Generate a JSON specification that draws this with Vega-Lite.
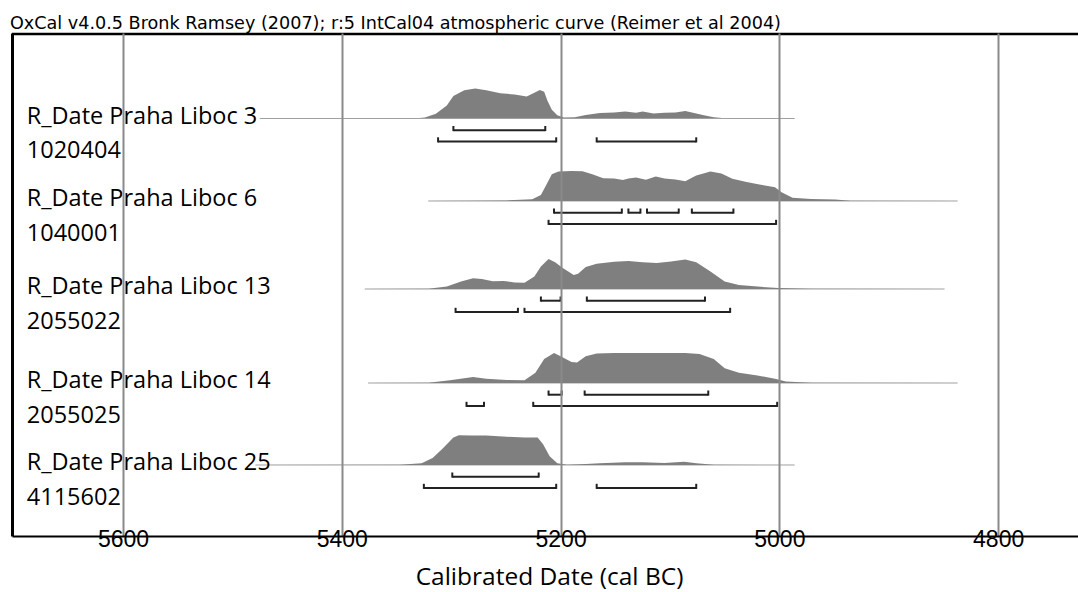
{
"$schema": "https://vega.github.io/schema/vega-lite/v6.json",
"autosize": {"type": "none"},
"padding": {"left": 12, "top": 33, "right": 0, "bottom": 56},
"width": 1066,
"height": 503,
"background": "white",
"config": {"view": {"stroke": null}},
"title": {"text": "OxCal v4.0.5 Bronk Ramsey (2007); r:5 IntCal04 atmospheric curve (Reimer et al 2004)", "anchor": "start", "frame": "group", "font": "DejaVu Sans", "fontSize": 17.6, "fontWeight": "normal", "color": "#000", "offset": 0, "dx": -2},
"datasets": {
"density": [
{"s":1,"yr":5475,"p":0},{"s":1,"yr":5334,"p":0},{"s":1,"yr":5324,"p":0.03},{"s":1,"yr":5314,"p":0.16},{"s":1,"yr":5304,"p":0.43},{"s":1,"yr":5298,"p":0.75},{"s":1,"yr":5288,"p":0.94},{"s":1,"yr":5278,"p":1.0},{"s":1,"yr":5268,"p":0.94},{"s":1,"yr":5255,"p":0.84},{"s":1,"yr":5242,"p":0.8},{"s":1,"yr":5231,"p":0.73},{"s":1,"yr":5224,"p":0.86},{"s":1,"yr":5219,"p":0.95},{"s":1,"yr":5215,"p":0.89},{"s":1,"yr":5212,"p":0.59},{"s":1,"yr":5208,"p":0.29},{"s":1,"yr":5203,"p":0.11},{"s":1,"yr":5197,"p":0.03},{"s":1,"yr":5187,"p":0.04},{"s":1,"yr":5177,"p":0.12},{"s":1,"yr":5164,"p":0.18},{"s":1,"yr":5151,"p":0.2},{"s":1,"yr":5141,"p":0.23},{"s":1,"yr":5131,"p":0.19},{"s":1,"yr":5125,"p":0.23},{"s":1,"yr":5115,"p":0.17},{"s":1,"yr":5105,"p":0.19},{"s":1,"yr":5095,"p":0.2},{"s":1,"yr":5086,"p":0.25},{"s":1,"yr":5079,"p":0.19},{"s":1,"yr":5069,"p":0.11},{"s":1,"yr":5060,"p":0.04},{"s":1,"yr":5050,"p":0.01},{"s":1,"yr":4986,"p":0},
{"s":2,"yr":5321,"p":0},{"s":2,"yr":5282,"p":0.01},{"s":2,"yr":5249,"p":0.02},{"s":2,"yr":5226,"p":0.06},{"s":2,"yr":5218,"p":0.2},{"s":2,"yr":5213,"p":0.54},{"s":2,"yr":5208,"p":0.89},{"s":2,"yr":5202,"p":0.98},{"s":2,"yr":5190,"p":1.0},{"s":2,"yr":5180,"p":0.99},{"s":2,"yr":5171,"p":0.89},{"s":2,"yr":5161,"p":0.76},{"s":2,"yr":5151,"p":0.75},{"s":2,"yr":5143,"p":0.7},{"s":2,"yr":5138,"p":0.75},{"s":2,"yr":5131,"p":0.78},{"s":2,"yr":5122,"p":0.71},{"s":2,"yr":5113,"p":0.82},{"s":2,"yr":5105,"p":0.75},{"s":2,"yr":5095,"p":0.72},{"s":2,"yr":5086,"p":0.66},{"s":2,"yr":5076,"p":0.85},{"s":2,"yr":5063,"p":0.98},{"s":2,"yr":5053,"p":0.92},{"s":2,"yr":5043,"p":0.74},{"s":2,"yr":5030,"p":0.63},{"s":2,"yr":5017,"p":0.54},{"s":2,"yr":5004,"p":0.46},{"s":2,"yr":4998,"p":0.29},{"s":2,"yr":4988,"p":0.11},{"s":2,"yr":4971,"p":0.07},{"s":2,"yr":4949,"p":0.05},{"s":2,"yr":4935,"p":0.01},{"s":2,"yr":4837,"p":0},
{"s":3,"yr":5379,"p":0},{"s":3,"yr":5321,"p":0.01},{"s":3,"yr":5304,"p":0.08},{"s":3,"yr":5291,"p":0.25},{"s":3,"yr":5280,"p":0.36},{"s":3,"yr":5272,"p":0.33},{"s":3,"yr":5262,"p":0.26},{"s":3,"yr":5252,"p":0.27},{"s":3,"yr":5242,"p":0.22},{"s":3,"yr":5233,"p":0.21},{"s":3,"yr":5224,"p":0.42},{"s":3,"yr":5218,"p":0.75},{"s":3,"yr":5211,"p":1.0},{"s":3,"yr":5205,"p":0.89},{"s":3,"yr":5198,"p":0.7},{"s":3,"yr":5188,"p":0.47},{"s":3,"yr":5184,"p":0.51},{"s":3,"yr":5177,"p":0.73},{"s":3,"yr":5167,"p":0.84},{"s":3,"yr":5151,"p":0.91},{"s":3,"yr":5138,"p":0.93},{"s":3,"yr":5125,"p":0.89},{"s":3,"yr":5112,"p":0.87},{"s":3,"yr":5099,"p":0.92},{"s":3,"yr":5086,"p":0.98},{"s":3,"yr":5076,"p":0.89},{"s":3,"yr":5063,"p":0.58},{"s":3,"yr":5050,"p":0.25},{"s":3,"yr":5037,"p":0.13},{"s":3,"yr":5020,"p":0.08},{"s":3,"yr":5001,"p":0.03},{"s":3,"yr":4971,"p":0.01},{"s":3,"yr":4849,"p":0},
{"s":4,"yr":5376,"p":0},{"s":4,"yr":5321,"p":0.01},{"s":4,"yr":5301,"p":0.09},{"s":4,"yr":5280,"p":0.2},{"s":4,"yr":5268,"p":0.14},{"s":4,"yr":5249,"p":0.1},{"s":4,"yr":5233,"p":0.09},{"s":4,"yr":5223,"p":0.34},{"s":4,"yr":5215,"p":0.8},{"s":4,"yr":5206,"p":1.0},{"s":4,"yr":5200,"p":0.89},{"s":4,"yr":5190,"p":0.7},{"s":4,"yr":5185,"p":0.68},{"s":4,"yr":5177,"p":0.89},{"s":4,"yr":5167,"p":0.98},{"s":4,"yr":5151,"p":1.0},{"s":4,"yr":5118,"p":1.0},{"s":4,"yr":5086,"p":1.0},{"s":4,"yr":5073,"p":0.97},{"s":4,"yr":5060,"p":0.8},{"s":4,"yr":5050,"p":0.49},{"s":4,"yr":5037,"p":0.34},{"s":4,"yr":5020,"p":0.25},{"s":4,"yr":5004,"p":0.14},{"s":4,"yr":4994,"p":0.05},{"s":4,"yr":4971,"p":0.01},{"s":4,"yr":4837,"p":0},
{"s":5,"yr":5479,"p":0},{"s":5,"yr":5347,"p":0.01},{"s":5,"yr":5327,"p":0.06},{"s":5,"yr":5317,"p":0.23},{"s":5,"yr":5308,"p":0.54},{"s":5,"yr":5298,"p":0.92},{"s":5,"yr":5293,"p":0.99},{"s":5,"yr":5282,"p":0.98},{"s":5,"yr":5268,"p":0.98},{"s":5,"yr":5249,"p":0.94},{"s":5,"yr":5233,"p":0.92},{"s":5,"yr":5221,"p":0.92},{"s":5,"yr":5216,"p":0.69},{"s":5,"yr":5210,"p":0.29},{"s":5,"yr":5203,"p":0.06},{"s":5,"yr":5194,"p":0.01},{"s":5,"yr":5177,"p":0.03},{"s":5,"yr":5164,"p":0.06},{"s":5,"yr":5141,"p":0.09},{"s":5,"yr":5125,"p":0.09},{"s":5,"yr":5105,"p":0.07},{"s":5,"yr":5087,"p":0.11},{"s":5,"yr":5076,"p":0.06},{"s":5,"yr":5060,"p":0.01},{"s":5,"yr":4986,"p":0}
],
"ranges": [
{"s":1,"lvl":68,"from":5298,"to":5214},{"s":1,"lvl":95,"from":5312,"to":5204},{"s":1,"lvl":95,"from":5167,"to":5076},
{"s":2,"lvl":68,"from":5206,"to":5144},{"s":2,"lvl":68,"from":5138,"to":5127},{"s":2,"lvl":68,"from":5121,"to":5092},{"s":2,"lvl":68,"from":5080,"to":5042},{"s":2,"lvl":95,"from":5211,"to":5003},
{"s":3,"lvl":68,"from":5218,"to":5200},{"s":3,"lvl":68,"from":5176,"to":5068},{"s":3,"lvl":95,"from":5296,"to":5239},{"s":3,"lvl":95,"from":5233,"to":5045},
{"s":4,"lvl":68,"from":5211,"to":5199},{"s":4,"lvl":68,"from":5178,"to":5065},{"s":4,"lvl":95,"from":5286,"to":5270},{"s":4,"lvl":95,"from":5225,"to":5002},
{"s":5,"lvl":68,"from":5299,"to":5220},{"s":5,"lvl":95,"from":5325,"to":5204},{"s":5,"lvl":95,"from":5167,"to":5076}
],
"samples": [
{"s":1,"name":"R_Date Praha Liboc 3","lab":"1020404"},
{"s":2,"name":"R_Date Praha Liboc 6","lab":"1040001"},
{"s":3,"name":"R_Date Praha Liboc 13","lab":"2055022"},
{"s":4,"name":"R_Date Praha Liboc 14","lab":"2055025"},
{"s":5,"name":"R_Date Praha Liboc 25","lab":"4115602"}
]
},
"resolve": {"scale": {"y": "independent"}, "axis": {"y": "independent", "x": "independent"}},
"layer": [
{
"layer": [
{"data": {"name": "density"}, "transform": [{"filter": "datum.s === 1"}], "mark": {"type": "area", "color": "#7f7f7f"},
 "encoding": {
  "x": {"field": "yr", "type": "quantitative", "scale": {"domain": [4727, 5701.5], "reverse": true, "nice": false, "zero": false},
   "axis": {"title": "Calibrated Date (cal BC)", "orient": "bottom", "offset": 0, "zindex": 1,
    "values": [5600, 5400, 5200, 5000, 4800], "format": "d",
    "labelFont": "Liberation Sans", "labelFontSize": 23, "labelColor": "#000", "labelPadding": -8, "labelOverlap": false, "labelFlush": false,
    "ticks": false, "tickSize": 0,
    "grid": true, "gridColor": "#8a8a8a", "gridWidth": 2,
    "domain": true, "domainColor": "#000", "domainWidth": 2,
    "titleFont": "Open Sans", "titleFontSize": 24.5, "titleFontWeight": "normal", "titleColor": "#000", "titleX": 537, "titleY": 48, "titleBaseline": "alphabetic", "titleAlign": "center"}},
  "y": {"field": "p", "type": "quantitative", "scale": {"domain": [-13.9167, 2.85], "nice": false, "zero": false},
   "axis": {"title": null, "domain": true, "domainColor": "#000", "domainWidth": 3, "ticks": false, "labels": false, "grid": false}}}},
{"data": {"name": "density"}, "transform": [{"filter": "datum.s === 1"}], "mark": {"type": "rule", "color": "#a0a0a0", "strokeWidth": 1},
 "encoding": {"x": {"aggregate": "min", "field": "yr", "type": "quantitative", "title": "Calibrated Date (cal BC)", "scale": {"domain": [4727, 5701.5], "reverse": true, "nice": false, "zero": false}}, "x2": {"aggregate": "max", "field": "yr"}, "y": {"datum": 0, "type": "quantitative", "scale": {"domain": [-13.9167, 2.85], "nice": false, "zero": false}, "axis": {"title": null, "domain": true, "domainColor": "#000", "domainWidth": 3, "ticks": false, "labels": false, "grid": false}}}},
{"data": {"name": "ranges"}, "transform": [{"filter": "datum.s === 1 && datum.lvl === 68"}], "mark": {"type": "rule", "color": "#222", "strokeWidth": 2},
 "encoding": {"x": {"field": "from", "type": "quantitative", "title": "Calibrated Date (cal BC)", "scale": {"domain": [4727, 5701.5], "reverse": true, "nice": false, "zero": false}}, "x2": {"field": "to"}, "y": {"datum": -0.39, "type": "quantitative", "scale": {"domain": [-13.9167, 2.85], "nice": false, "zero": false}, "axis": {"title": null, "domain": true, "domainColor": "#000", "domainWidth": 3, "ticks": false, "labels": false, "grid": false}}}},
{"data": {"name": "ranges"}, "transform": [{"filter": "datum.s === 1 && datum.lvl === 68"}, {"fold": ["from", "to"], "as": ["end", "edge"]}], "mark": {"type": "rule", "color": "#222", "strokeWidth": 2},
 "encoding": {"x": {"field": "edge", "type": "quantitative", "title": "Calibrated Date (cal BC)", "scale": {"domain": [4727, 5701.5], "reverse": true, "nice": false, "zero": false}}, "y": {"datum": -0.42, "type": "quantitative", "scale": {"domain": [-13.9167, 2.85], "nice": false, "zero": false}, "axis": {"title": null, "domain": true, "domainColor": "#000", "domainWidth": 3, "ticks": false, "labels": false, "grid": false}}, "y2": {"datum": -0.25}}},
{"data": {"name": "ranges"}, "transform": [{"filter": "datum.s === 1 && datum.lvl === 95"}], "mark": {"type": "rule", "color": "#222", "strokeWidth": 2},
 "encoding": {"x": {"field": "from", "type": "quantitative", "title": "Calibrated Date (cal BC)", "scale": {"domain": [4727, 5701.5], "reverse": true, "nice": false, "zero": false}}, "x2": {"field": "to"}, "y": {"datum": -0.767, "type": "quantitative", "scale": {"domain": [-13.9167, 2.85], "nice": false, "zero": false}, "axis": {"title": null, "domain": true, "domainColor": "#000", "domainWidth": 3, "ticks": false, "labels": false, "grid": false}}}},
{"data": {"name": "ranges"}, "transform": [{"filter": "datum.s === 1 && datum.lvl === 95"}, {"fold": ["from", "to"], "as": ["end", "edge"]}], "mark": {"type": "rule", "color": "#222", "strokeWidth": 2},
 "encoding": {"x": {"field": "edge", "type": "quantitative", "title": "Calibrated Date (cal BC)", "scale": {"domain": [4727, 5701.5], "reverse": true, "nice": false, "zero": false}}, "y": {"datum": -0.797, "type": "quantitative", "scale": {"domain": [-13.9167, 2.85], "nice": false, "zero": false}, "axis": {"title": null, "domain": true, "domainColor": "#000", "domainWidth": 3, "ticks": false, "labels": false, "grid": false}}, "y2": {"datum": -0.627}}},
{"data": {"name": "samples"}, "transform": [{"filter": "datum.s === 1"}], "mark": {"type": "text", "align": "left", "baseline": "alphabetic", "font": "Open Sans", "fontSize": 23.5, "color": "#000"},
 "encoding": {"x": {"datum": 5688, "type": "quantitative", "title": "Calibrated Date (cal BC)", "scale": {"domain": [4727, 5701.5], "reverse": true, "nice": false, "zero": false}}, "y": {"datum": -0.17, "type": "quantitative", "scale": {"domain": [-13.9167, 2.85], "nice": false, "zero": false}, "axis": {"title": null, "domain": true, "domainColor": "#000", "domainWidth": 3, "ticks": false, "labels": false, "grid": false}}, "text": {"field": "name"}}},
{"data": {"name": "samples"}, "transform": [{"filter": "datum.s === 1"}], "mark": {"type": "text", "align": "left", "baseline": "alphabetic", "font": "Open Sans", "fontSize": 23.5, "color": "#000"},
 "encoding": {"x": {"datum": 5688, "type": "quantitative", "title": "Calibrated Date (cal BC)", "scale": {"domain": [4727, 5701.5], "reverse": true, "nice": false, "zero": false}}, "y": {"datum": -1.33, "type": "quantitative", "scale": {"domain": [-13.9167, 2.85], "nice": false, "zero": false}, "axis": {"title": null, "domain": true, "domainColor": "#000", "domainWidth": 3, "ticks": false, "labels": false, "grid": false}}, "text": {"field": "lab"}}},
{"data": {"name": "samples"}, "transform": [{"filter": "datum.s === 1"}], "mark": {"type": "rule", "color": "#000", "strokeWidth": 2.5},
 "encoding": {"x": {"datum": 4727, "type": "quantitative", "title": "Calibrated Date (cal BC)", "scale": {"domain": [4727, 5701.5], "reverse": true, "nice": false, "zero": false}}, "x2": {"datum": 5701.5}, "y": {"datum": 2.82, "type": "quantitative", "scale": {"domain": [-13.9167, 2.85], "nice": false, "zero": false}, "axis": {"title": null, "domain": true, "domainColor": "#000", "domainWidth": 3, "ticks": false, "labels": false, "grid": false}}}}
]
},
{
"layer": [
{"data": {"name": "density"}, "transform": [{"filter": "datum.s === 2"}], "mark": {"type": "rule", "color": "#a0a0a0", "strokeWidth": 1},
 "encoding": {"x": {"aggregate": "min", "field": "yr", "type": "quantitative", "axis": null, "scale": {"domain": [4727, 5701.5], "reverse": true, "nice": false, "zero": false}}, "x2": {"aggregate": "max", "field": "yr"}, "y": {"datum": 0, "type": "quantitative", "scale": {"domain": [-11.1667, 5.6], "nice": false, "zero": false}, "axis": null}}},
{"data": {"name": "density"}, "transform": [{"filter": "datum.s === 2"}], "mark": {"type": "area", "color": "#7f7f7f"},
 "encoding": {"x": {"field": "yr", "type": "quantitative", "axis": null, "scale": {"domain": [4727, 5701.5], "reverse": true, "nice": false, "zero": false}}, "y": {"field": "p", "type": "quantitative", "scale": {"domain": [-11.1667, 5.6], "nice": false, "zero": false}, "axis": null}}},
{"data": {"name": "ranges"}, "transform": [{"filter": "datum.s === 2 && datum.lvl === 68"}], "mark": {"type": "rule", "color": "#222", "strokeWidth": 2},
 "encoding": {"x": {"field": "from", "type": "quantitative", "axis": null, "scale": {"domain": [4727, 5701.5], "reverse": true, "nice": false, "zero": false}}, "x2": {"field": "to"}, "y": {"datum": -0.39, "type": "quantitative", "scale": {"domain": [-11.1667, 5.6], "nice": false, "zero": false}, "axis": null}}},
{"data": {"name": "ranges"}, "transform": [{"filter": "datum.s === 2 && datum.lvl === 68"}, {"fold": ["from", "to"], "as": ["end", "edge"]}], "mark": {"type": "rule", "color": "#222", "strokeWidth": 2},
 "encoding": {"x": {"field": "edge", "type": "quantitative", "axis": null, "scale": {"domain": [4727, 5701.5], "reverse": true, "nice": false, "zero": false}}, "y": {"datum": -0.42, "type": "quantitative", "scale": {"domain": [-11.1667, 5.6], "nice": false, "zero": false}, "axis": null}, "y2": {"datum": -0.25}}},
{"data": {"name": "ranges"}, "transform": [{"filter": "datum.s === 2 && datum.lvl === 95"}], "mark": {"type": "rule", "color": "#222", "strokeWidth": 2},
 "encoding": {"x": {"field": "from", "type": "quantitative", "axis": null, "scale": {"domain": [4727, 5701.5], "reverse": true, "nice": false, "zero": false}}, "x2": {"field": "to"}, "y": {"datum": -0.767, "type": "quantitative", "scale": {"domain": [-11.1667, 5.6], "nice": false, "zero": false}, "axis": null}}},
{"data": {"name": "ranges"}, "transform": [{"filter": "datum.s === 2 && datum.lvl === 95"}, {"fold": ["from", "to"], "as": ["end", "edge"]}], "mark": {"type": "rule", "color": "#222", "strokeWidth": 2},
 "encoding": {"x": {"field": "edge", "type": "quantitative", "axis": null, "scale": {"domain": [4727, 5701.5], "reverse": true, "nice": false, "zero": false}}, "y": {"datum": -0.797, "type": "quantitative", "scale": {"domain": [-11.1667, 5.6], "nice": false, "zero": false}, "axis": null}, "y2": {"datum": -0.627}}},
{"data": {"name": "samples"}, "transform": [{"filter": "datum.s === 2"}], "mark": {"type": "text", "align": "left", "baseline": "alphabetic", "font": "Open Sans", "fontSize": 23.5, "color": "#000"},
 "encoding": {"x": {"datum": 5688, "type": "quantitative", "axis": null, "scale": {"domain": [4727, 5701.5], "reverse": true, "nice": false, "zero": false}}, "y": {"datum": -0.17, "type": "quantitative", "scale": {"domain": [-11.1667, 5.6], "nice": false, "zero": false}, "axis": null}, "text": {"field": "name"}}},
{"data": {"name": "samples"}, "transform": [{"filter": "datum.s === 2"}], "mark": {"type": "text", "align": "left", "baseline": "alphabetic", "font": "Open Sans", "fontSize": 23.5, "color": "#000"},
 "encoding": {"x": {"datum": 5688, "type": "quantitative", "axis": null, "scale": {"domain": [4727, 5701.5], "reverse": true, "nice": false, "zero": false}}, "y": {"datum": -1.33, "type": "quantitative", "scale": {"domain": [-11.1667, 5.6], "nice": false, "zero": false}, "axis": null}, "text": {"field": "lab"}}}
]
},
{
"layer": [
{"data": {"name": "density"}, "transform": [{"filter": "datum.s === 3"}], "mark": {"type": "rule", "color": "#a0a0a0", "strokeWidth": 1},
 "encoding": {"x": {"aggregate": "min", "field": "yr", "type": "quantitative", "axis": null, "scale": {"domain": [4727, 5701.5], "reverse": true, "nice": false, "zero": false}}, "x2": {"aggregate": "max", "field": "yr"}, "y": {"datum": 0, "type": "quantitative", "scale": {"domain": [-8.2333, 8.5333], "nice": false, "zero": false}, "axis": null}}},
{"data": {"name": "density"}, "transform": [{"filter": "datum.s === 3"}], "mark": {"type": "area", "color": "#7f7f7f"},
 "encoding": {"x": {"field": "yr", "type": "quantitative", "axis": null, "scale": {"domain": [4727, 5701.5], "reverse": true, "nice": false, "zero": false}}, "y": {"field": "p", "type": "quantitative", "scale": {"domain": [-8.2333, 8.5333], "nice": false, "zero": false}, "axis": null}}},
{"data": {"name": "ranges"}, "transform": [{"filter": "datum.s === 3 && datum.lvl === 68"}], "mark": {"type": "rule", "color": "#222", "strokeWidth": 2},
 "encoding": {"x": {"field": "from", "type": "quantitative", "axis": null, "scale": {"domain": [4727, 5701.5], "reverse": true, "nice": false, "zero": false}}, "x2": {"field": "to"}, "y": {"datum": -0.39, "type": "quantitative", "scale": {"domain": [-8.2333, 8.5333], "nice": false, "zero": false}, "axis": null}}},
{"data": {"name": "ranges"}, "transform": [{"filter": "datum.s === 3 && datum.lvl === 68"}, {"fold": ["from", "to"], "as": ["end", "edge"]}], "mark": {"type": "rule", "color": "#222", "strokeWidth": 2},
 "encoding": {"x": {"field": "edge", "type": "quantitative", "axis": null, "scale": {"domain": [4727, 5701.5], "reverse": true, "nice": false, "zero": false}}, "y": {"datum": -0.42, "type": "quantitative", "scale": {"domain": [-8.2333, 8.5333], "nice": false, "zero": false}, "axis": null}, "y2": {"datum": -0.25}}},
{"data": {"name": "ranges"}, "transform": [{"filter": "datum.s === 3 && datum.lvl === 95"}], "mark": {"type": "rule", "color": "#222", "strokeWidth": 2},
 "encoding": {"x": {"field": "from", "type": "quantitative", "axis": null, "scale": {"domain": [4727, 5701.5], "reverse": true, "nice": false, "zero": false}}, "x2": {"field": "to"}, "y": {"datum": -0.767, "type": "quantitative", "scale": {"domain": [-8.2333, 8.5333], "nice": false, "zero": false}, "axis": null}}},
{"data": {"name": "ranges"}, "transform": [{"filter": "datum.s === 3 && datum.lvl === 95"}, {"fold": ["from", "to"], "as": ["end", "edge"]}], "mark": {"type": "rule", "color": "#222", "strokeWidth": 2},
 "encoding": {"x": {"field": "edge", "type": "quantitative", "axis": null, "scale": {"domain": [4727, 5701.5], "reverse": true, "nice": false, "zero": false}}, "y": {"datum": -0.797, "type": "quantitative", "scale": {"domain": [-8.2333, 8.5333], "nice": false, "zero": false}, "axis": null}, "y2": {"datum": -0.627}}},
{"data": {"name": "samples"}, "transform": [{"filter": "datum.s === 3"}], "mark": {"type": "text", "align": "left", "baseline": "alphabetic", "font": "Open Sans", "fontSize": 23.5, "color": "#000"},
 "encoding": {"x": {"datum": 5688, "type": "quantitative", "axis": null, "scale": {"domain": [4727, 5701.5], "reverse": true, "nice": false, "zero": false}}, "y": {"datum": -0.17, "type": "quantitative", "scale": {"domain": [-8.2333, 8.5333], "nice": false, "zero": false}, "axis": null}, "text": {"field": "name"}}},
{"data": {"name": "samples"}, "transform": [{"filter": "datum.s === 3"}], "mark": {"type": "text", "align": "left", "baseline": "alphabetic", "font": "Open Sans", "fontSize": 23.5, "color": "#000"},
 "encoding": {"x": {"datum": 5688, "type": "quantitative", "axis": null, "scale": {"domain": [4727, 5701.5], "reverse": true, "nice": false, "zero": false}}, "y": {"datum": -1.33, "type": "quantitative", "scale": {"domain": [-8.2333, 8.5333], "nice": false, "zero": false}, "axis": null}, "text": {"field": "lab"}}}
]
},
{
"layer": [
{"data": {"name": "density"}, "transform": [{"filter": "datum.s === 4"}], "mark": {"type": "rule", "color": "#a0a0a0", "strokeWidth": 1},
 "encoding": {"x": {"aggregate": "min", "field": "yr", "type": "quantitative", "axis": null, "scale": {"domain": [4727, 5701.5], "reverse": true, "nice": false, "zero": false}}, "x2": {"aggregate": "max", "field": "yr"}, "y": {"datum": 0, "type": "quantitative", "scale": {"domain": [-5.1, 11.6667], "nice": false, "zero": false}, "axis": null}}},
{"data": {"name": "density"}, "transform": [{"filter": "datum.s === 4"}], "mark": {"type": "area", "color": "#7f7f7f"},
 "encoding": {"x": {"field": "yr", "type": "quantitative", "axis": null, "scale": {"domain": [4727, 5701.5], "reverse": true, "nice": false, "zero": false}}, "y": {"field": "p", "type": "quantitative", "scale": {"domain": [-5.1, 11.6667], "nice": false, "zero": false}, "axis": null}}},
{"data": {"name": "ranges"}, "transform": [{"filter": "datum.s === 4 && datum.lvl === 68"}], "mark": {"type": "rule", "color": "#222", "strokeWidth": 2},
 "encoding": {"x": {"field": "from", "type": "quantitative", "axis": null, "scale": {"domain": [4727, 5701.5], "reverse": true, "nice": false, "zero": false}}, "x2": {"field": "to"}, "y": {"datum": -0.39, "type": "quantitative", "scale": {"domain": [-5.1, 11.6667], "nice": false, "zero": false}, "axis": null}}},
{"data": {"name": "ranges"}, "transform": [{"filter": "datum.s === 4 && datum.lvl === 68"}, {"fold": ["from", "to"], "as": ["end", "edge"]}], "mark": {"type": "rule", "color": "#222", "strokeWidth": 2},
 "encoding": {"x": {"field": "edge", "type": "quantitative", "axis": null, "scale": {"domain": [4727, 5701.5], "reverse": true, "nice": false, "zero": false}}, "y": {"datum": -0.42, "type": "quantitative", "scale": {"domain": [-5.1, 11.6667], "nice": false, "zero": false}, "axis": null}, "y2": {"datum": -0.25}}},
{"data": {"name": "ranges"}, "transform": [{"filter": "datum.s === 4 && datum.lvl === 95"}], "mark": {"type": "rule", "color": "#222", "strokeWidth": 2},
 "encoding": {"x": {"field": "from", "type": "quantitative", "axis": null, "scale": {"domain": [4727, 5701.5], "reverse": true, "nice": false, "zero": false}}, "x2": {"field": "to"}, "y": {"datum": -0.767, "type": "quantitative", "scale": {"domain": [-5.1, 11.6667], "nice": false, "zero": false}, "axis": null}}},
{"data": {"name": "ranges"}, "transform": [{"filter": "datum.s === 4 && datum.lvl === 95"}, {"fold": ["from", "to"], "as": ["end", "edge"]}], "mark": {"type": "rule", "color": "#222", "strokeWidth": 2},
 "encoding": {"x": {"field": "edge", "type": "quantitative", "axis": null, "scale": {"domain": [4727, 5701.5], "reverse": true, "nice": false, "zero": false}}, "y": {"datum": -0.797, "type": "quantitative", "scale": {"domain": [-5.1, 11.6667], "nice": false, "zero": false}, "axis": null}, "y2": {"datum": -0.627}}},
{"data": {"name": "samples"}, "transform": [{"filter": "datum.s === 4"}], "mark": {"type": "text", "align": "left", "baseline": "alphabetic", "font": "Open Sans", "fontSize": 23.5, "color": "#000"},
 "encoding": {"x": {"datum": 5688, "type": "quantitative", "axis": null, "scale": {"domain": [4727, 5701.5], "reverse": true, "nice": false, "zero": false}}, "y": {"datum": -0.17, "type": "quantitative", "scale": {"domain": [-5.1, 11.6667], "nice": false, "zero": false}, "axis": null}, "text": {"field": "name"}}},
{"data": {"name": "samples"}, "transform": [{"filter": "datum.s === 4"}], "mark": {"type": "text", "align": "left", "baseline": "alphabetic", "font": "Open Sans", "fontSize": 23.5, "color": "#000"},
 "encoding": {"x": {"datum": 5688, "type": "quantitative", "axis": null, "scale": {"domain": [4727, 5701.5], "reverse": true, "nice": false, "zero": false}}, "y": {"datum": -1.33, "type": "quantitative", "scale": {"domain": [-5.1, 11.6667], "nice": false, "zero": false}, "axis": null}, "text": {"field": "lab"}}}
]
},
{
"layer": [
{"data": {"name": "density"}, "transform": [{"filter": "datum.s === 5"}], "mark": {"type": "rule", "color": "#a0a0a0", "strokeWidth": 1},
 "encoding": {"x": {"aggregate": "min", "field": "yr", "type": "quantitative", "axis": null, "scale": {"domain": [4727, 5701.5], "reverse": true, "nice": false, "zero": false}}, "x2": {"aggregate": "max", "field": "yr"}, "y": {"datum": 0, "type": "quantitative", "scale": {"domain": [-2.3667, 14.4], "nice": false, "zero": false}, "axis": null}}},
{"data": {"name": "density"}, "transform": [{"filter": "datum.s === 5"}], "mark": {"type": "area", "color": "#7f7f7f"},
 "encoding": {"x": {"field": "yr", "type": "quantitative", "axis": null, "scale": {"domain": [4727, 5701.5], "reverse": true, "nice": false, "zero": false}}, "y": {"field": "p", "type": "quantitative", "scale": {"domain": [-2.3667, 14.4], "nice": false, "zero": false}, "axis": null}}},
{"data": {"name": "ranges"}, "transform": [{"filter": "datum.s === 5 && datum.lvl === 68"}], "mark": {"type": "rule", "color": "#222", "strokeWidth": 2},
 "encoding": {"x": {"field": "from", "type": "quantitative", "axis": null, "scale": {"domain": [4727, 5701.5], "reverse": true, "nice": false, "zero": false}}, "x2": {"field": "to"}, "y": {"datum": -0.39, "type": "quantitative", "scale": {"domain": [-2.3667, 14.4], "nice": false, "zero": false}, "axis": null}}},
{"data": {"name": "ranges"}, "transform": [{"filter": "datum.s === 5 && datum.lvl === 68"}, {"fold": ["from", "to"], "as": ["end", "edge"]}], "mark": {"type": "rule", "color": "#222", "strokeWidth": 2},
 "encoding": {"x": {"field": "edge", "type": "quantitative", "axis": null, "scale": {"domain": [4727, 5701.5], "reverse": true, "nice": false, "zero": false}}, "y": {"datum": -0.42, "type": "quantitative", "scale": {"domain": [-2.3667, 14.4], "nice": false, "zero": false}, "axis": null}, "y2": {"datum": -0.25}}},
{"data": {"name": "ranges"}, "transform": [{"filter": "datum.s === 5 && datum.lvl === 95"}], "mark": {"type": "rule", "color": "#222", "strokeWidth": 2},
 "encoding": {"x": {"field": "from", "type": "quantitative", "axis": null, "scale": {"domain": [4727, 5701.5], "reverse": true, "nice": false, "zero": false}}, "x2": {"field": "to"}, "y": {"datum": -0.767, "type": "quantitative", "scale": {"domain": [-2.3667, 14.4], "nice": false, "zero": false}, "axis": null}}},
{"data": {"name": "ranges"}, "transform": [{"filter": "datum.s === 5 && datum.lvl === 95"}, {"fold": ["from", "to"], "as": ["end", "edge"]}], "mark": {"type": "rule", "color": "#222", "strokeWidth": 2},
 "encoding": {"x": {"field": "edge", "type": "quantitative", "axis": null, "scale": {"domain": [4727, 5701.5], "reverse": true, "nice": false, "zero": false}}, "y": {"datum": -0.797, "type": "quantitative", "scale": {"domain": [-2.3667, 14.4], "nice": false, "zero": false}, "axis": null}, "y2": {"datum": -0.627}}},
{"data": {"name": "samples"}, "transform": [{"filter": "datum.s === 5"}], "mark": {"type": "text", "align": "left", "baseline": "alphabetic", "font": "Open Sans", "fontSize": 23.5, "color": "#000"},
 "encoding": {"x": {"datum": 5688, "type": "quantitative", "axis": null, "scale": {"domain": [4727, 5701.5], "reverse": true, "nice": false, "zero": false}}, "y": {"datum": -0.17, "type": "quantitative", "scale": {"domain": [-2.3667, 14.4], "nice": false, "zero": false}, "axis": null}, "text": {"field": "name"}}},
{"data": {"name": "samples"}, "transform": [{"filter": "datum.s === 5"}], "mark": {"type": "text", "align": "left", "baseline": "alphabetic", "font": "Open Sans", "fontSize": 23.5, "color": "#000"},
 "encoding": {"x": {"datum": 5688, "type": "quantitative", "axis": null, "scale": {"domain": [4727, 5701.5], "reverse": true, "nice": false, "zero": false}}, "y": {"datum": -1.33, "type": "quantitative", "scale": {"domain": [-2.3667, 14.4], "nice": false, "zero": false}, "axis": null}, "text": {"field": "lab"}}}
]
}
]
}
